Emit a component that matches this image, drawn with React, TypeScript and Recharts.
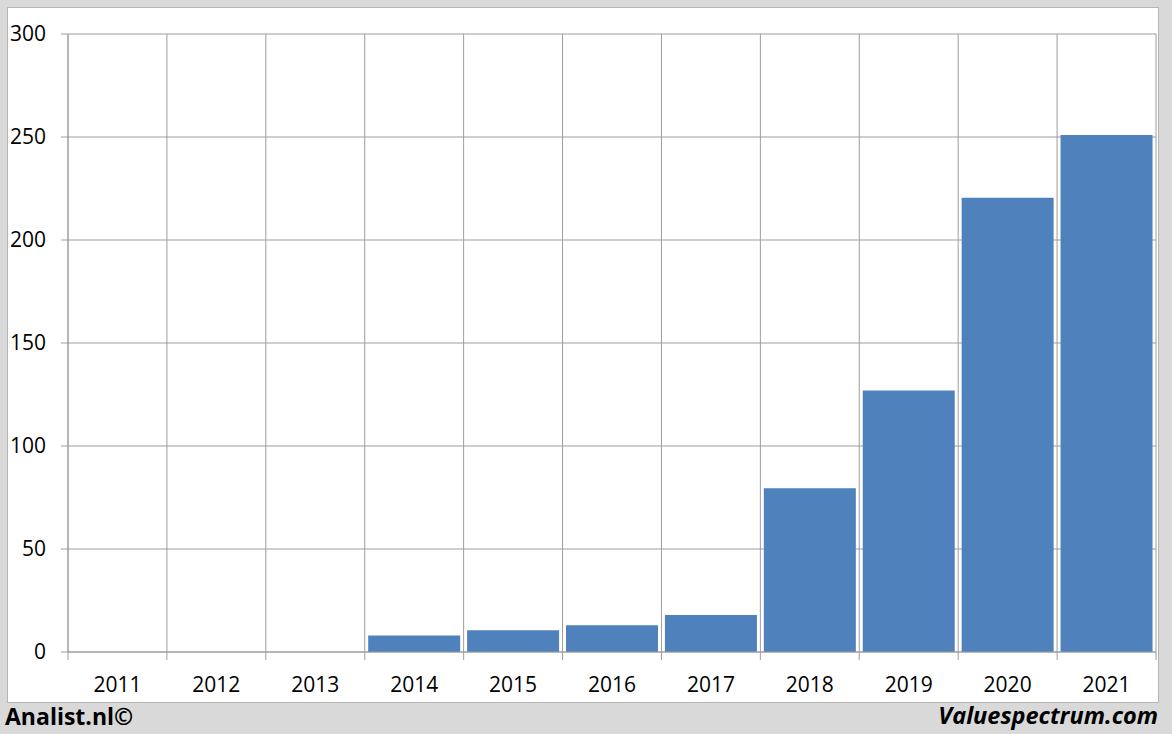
import React from 'react'
import { BarChart, Bar, XAxis, YAxis, CartesianGrid } from 'recharts'

const years = ['2011', '2012', '2013', '2014', '2015', '2016', '2017', '2018', '2019', '2020', '2021']
const values = [0, 0, 0, 8, 10.5, 13, 18, 79.5, 127, 220.5, 251]
const yTicks = [0, 50, 100, 150, 200, 250, 300]

const data = years.map((year, i) => ({ year, value: values[i] }))

const GRID = '#9d9d9d'
const FONT = '"Open Sans", "Liberation Sans", sans-serif'

// x labels + the little tick marks that sit on the category borders
const YearTick = (props: any) => {
  const { x, y, payload, index, visibleTicksCount, width } = props
  const step = width / visibleTicksCount
  const left = x - step / 2
  const top = y - 25
  return (
    <g>
      <line x1={left} x2={left} y1={top} y2={top + 8} stroke={GRID} />
      {index === visibleTicksCount - 1 && (
        <line x1={left + step} x2={left + step} y1={top} y2={top + 8} stroke={GRID} />
      )}
      <text x={x} y={y} dy="0.71em" textAnchor="middle" fill="#000" fontSize={21} fontFamily={FONT}>
        {payload.value}
      </text>
    </g>
  )
}

export default function App() {
  return (
    <div style={{ position: 'relative', width: 1172, height: 734, background: '#d9d9d9', overflow: 'hidden' }}>
      <style>{'body{margin:0}'}</style>
      <div
        style={{
          position: 'absolute',
          left: 7,
          top: 7,
          width: 1150,
          height: 694,
          background: '#fff',
          border: '1px solid #b5b5b5',
        }}
      />
      <div style={{ position: 'absolute', left: 0, top: 0 }}>
        <BarChart
          width={1172}
          height={734}
          data={data}
          margin={{ top: 34, right: 16, left: 0, bottom: 42 }}
          barCategoryGap="3.5%"
        >
          <CartesianGrid
            stroke={GRID}
            verticalCoordinatesGenerator={({ offset }: any) =>
              [...years.map((_, i) => offset.left + (i * offset.width) / years.length), offset.left + offset.width]
            }
          />
          <XAxis
            dataKey="year"
            height={40}
            axisLine={{ stroke: GRID }}
            tickLine={false}
            tickSize={8}
            tickMargin={17}
            interval={0}
            tick={<YearTick />}
          />
          <YAxis
            width={68}
            domain={[0, 300]}
            ticks={yTicks}
            axisLine={{ stroke: GRID }}
            tickLine={{ stroke: GRID }}
            tickSize={7}
            tickMargin={15}
            tick={{ fill: '#000', fontSize: 21, fontFamily: FONT }}
          />
          <Bar dataKey="value" fill="#4f81bd" isAnimationActive={false} />
        </BarChart>
      </div>
      <div
        style={{
          position: 'absolute',
          left: 5,
          top: 700,
          fontFamily: FONT,
          fontWeight: 700,
          fontSize: 23,
          color: '#000',
        }}
      >
        Analist.nl©
      </div>
      <div
        style={{
          position: 'absolute',
          right: 14,
          top: 699,
          fontFamily: FONT,
          fontWeight: 700,
          fontStyle: 'italic',
          fontSize: 23.5,
          color: '#000',
        }}
      >
        Valuespectrum.com
      </div>
    </div>
  )
}
